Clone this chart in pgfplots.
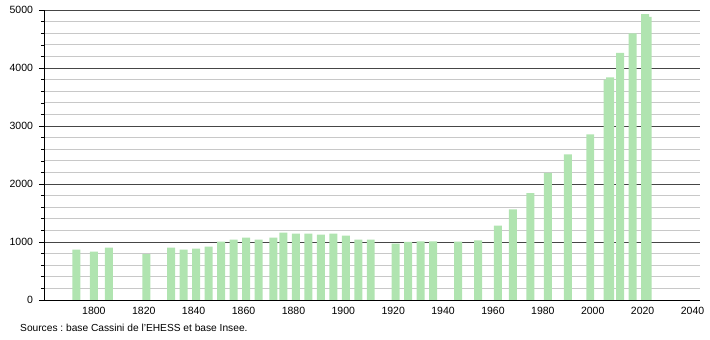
\documentclass[border=0pt]{standalone}
\usepackage{fontspec}
\setmainfont{Liberation Sans}
\usepackage{pgfplots}
\pgfplotsset{compat=1.18}
\definecolor{barg}{RGB}{176,228,176}
\definecolor{majg}{RGB}{70,70,70}
\definecolor{ming}{RGB}{200,200,200}
\frenchspacing
\begin{document}
\fontsize{10}{12}\selectfont
\begin{tikzpicture}
\useasboundingbox (-44pt,-40pt) rectangle (666pt,300pt);
\begin{axis}[
  scale only axis,
  width=656pt, height=290pt,
  xmin=1780, xmax=2043,
  ymin=0, ymax=5000,
  axis x line=bottom, axis y line=left,
  axis line style={-, black, line width=0.8pt},
  xtick={1800,1820,...,2040},
  x tick label style={/pgf/number format/1000 sep={}, yshift=1pt},
  major x tick style={draw=none},
  ytick={0,1000,...,5000},
  minor y tick num=4,
  y tick label style={/pgf/number format/1000 sep={}, xshift=-2.5pt},
  tick align=outside,
  major tick length=5pt, minor tick length=3pt,
  y tick style={black, line width=0.6pt},
  ymajorgrids, yminorgrids,
  major grid style={majg, line width=0.7pt},
  minor grid style={ming, line width=0.7pt},
  /pgf/number format/assume math mode=true,
  tick label style={font=\fontsize{10.5}{12}\selectfont},
  clip=false,
]
\addplot[ybar, bar width=3.2, fill=barg, draw=none] coordinates {
(1793,867) (1800,832) (1806,902) (1821,792) (1831,902) (1836,867)
(1841,884) (1846,919) (1851,1006) (1856,1040) (1861,1075) (1866,1040)
(1872,1075) (1876,1162) (1881,1144) (1886,1144) (1891,1127) (1896,1144)
(1901,1110) (1906,1040) (1911,1040) (1921,971) (1926,1000) (1931,1012)
(1936,1012) (1946,1006) (1954,1029) (1962,1283) (1968,1561) (1975,1844)
(1982,2193) (1990,2510) (1999,2856) (2006,3797) (2007,3837) (2011,4259)
(2016,4599) (2021,4930) (2022,4880)
};
\end{axis}
\node[anchor=west, inner sep=0pt, font=\fontsize{10.2}{12}\selectfont] at (-24pt,-28pt) {Sources : base Cassini de l'EHESS et base Insee.};
\end{tikzpicture}
\end{document}
